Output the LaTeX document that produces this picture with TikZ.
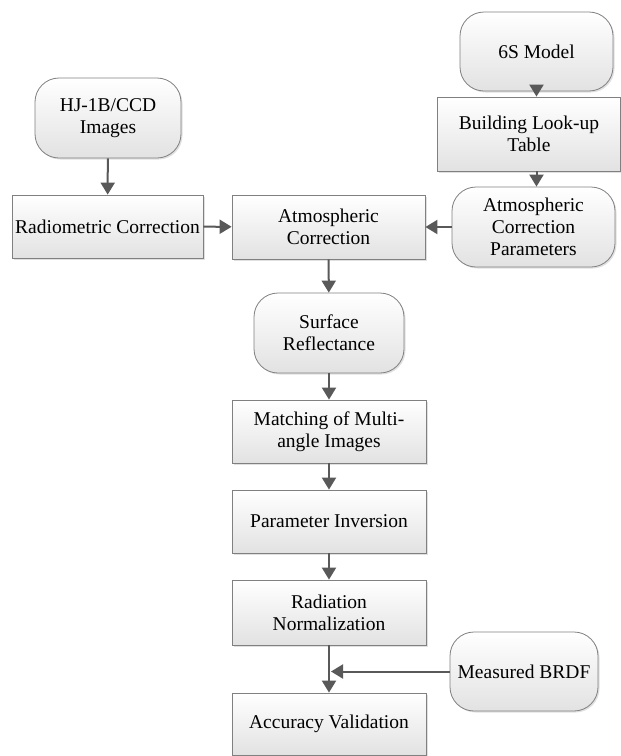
\documentclass[tikz,border=0pt]{standalone}
\usepackage{fontspec}
\setmainfont{Liberation Serif}
\usepackage{tikz}
\usetikzlibrary{arrows.meta,shadows}

\definecolor{boxline}{RGB}{128,128,128}
\definecolor{boxlow}{RGB}{226,226,226}
\definecolor{arrowgray}{RGB}{89,89,89}

\tikzset{
  procbox/.style={draw=boxline, line width=0.8pt, top color=white, bottom color=boxlow,
    align=center, inner sep=0pt,
    font=\rmfamily\fontsize{19.5}{22}\selectfont,
    drop shadow={shadow xshift=1.5pt, shadow yshift=-1.5pt, fill=black, opacity=0.12}},
  databox/.style={procbox, rounded corners=24pt},
  flow/.style={draw=arrowgray, line width=2pt, -{Triangle[length=12pt,width=14pt]}},
}

\begin{document}
\begin{tikzpicture}[x=1pt,y=-1pt]
  \useasboundingbox (0,0) rectangle (621,756);
  % inputs
  \node[databox, minimum width=146pt, minimum height=80pt] (hj) at (108,118) {HJ-1B/CCD\\Images};
  \node[databox, minimum width=153pt, minimum height=79pt] (sixs) at (536.5,51.5) {6S Model};
  \node[procbox, minimum width=183pt, minimum height=74pt] (lut) at (529,134) {Building Look-up\\Table};
  \node[databox, minimum width=163pt, minimum height=80pt] (acp) at (533.5,227) {Atmospheric\\Correction\\Parameters};
  % main chain
  \node[procbox, minimum width=191pt, minimum height=63pt] (radio) at (107.5,226.5) {Radiometric Correction};
  \node[procbox, minimum width=193pt, minimum height=64pt] (atmo) at (328.5,227) {Atmospheric\\Correction};
  \node[databox, minimum width=150pt, minimum height=80pt] (surf) at (329,333) {Surface\\Reflectance};
  \node[procbox, minimum width=194pt, minimum height=63pt] (match) at (329,431.5) {Matching of Multi-\\angle Images};
  \node[procbox, minimum width=194pt, minimum height=63pt] (inv) at (329,521.5) {Parameter Inversion};
  \node[procbox, minimum width=194pt, minimum height=65pt] (norm) at (329,612.5) {Radiation\\Normalization};
  \node[procbox, minimum width=194pt, minimum height=62pt] (acc) at (329,724) {Accuracy Validation};
  \node[databox, minimum width=148pt, minimum height=79pt] (brdf) at (524,671.5) {Measured BRDF};
  \coordinate (join) at (norm.south |- brdf.west);

  \draw[flow] (hj) -- (radio);
  \draw[flow] (radio) -- (atmo);
  \draw[flow] (sixs.south) -- (sixs.south |- lut.north);
  \draw[flow] (sixs.south |- lut.south) -- (sixs.south |- acp.north);
  \draw[flow] (acp) -- (atmo);
  \draw[flow] (atmo) -- (surf);
  \draw[flow] (surf) -- (match);
  \draw[flow] (match) -- (inv);
  \draw[flow] (inv) -- (norm);
  \draw[flow] (norm) -- (acc);
  \draw[flow] (brdf) -- ([xshift=2pt]join);
\end{tikzpicture}
\end{document}
